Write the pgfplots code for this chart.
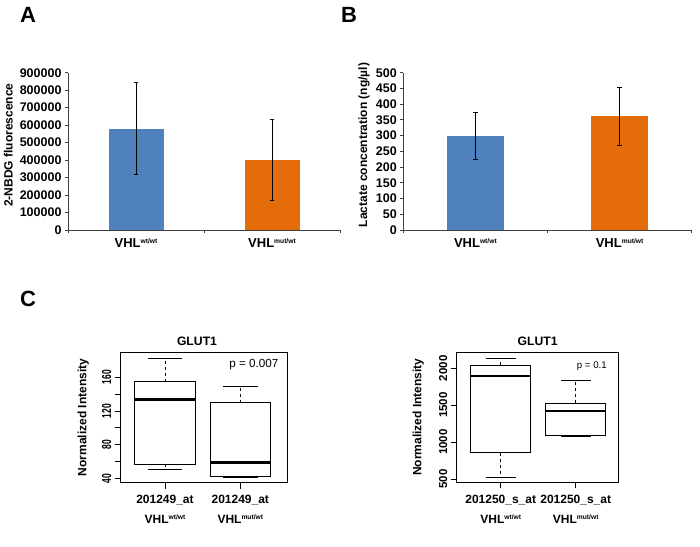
\documentclass[border=0pt]{standalone}
\usepackage{pgfplots}
\pgfplotsset{compat=1.18}
\usepackage{fontspec}
\setmainfont{Liberation Sans}
\definecolor{barblue}{RGB}{79,129,189}
\definecolor{barorange}{RGB}{228,108,10}
\newcommand{\fs}[1]{\fontsize{#1}{#1}\selectfont}
\newcommand{\vhl}[1]{VHL\raisebox{4.3pt}{\fontsize{6.7}{7}\selectfont\bfseries #1}}
\begin{document}
\begin{tikzpicture}[x=1pt,y=1pt]
\path[use as bounding box] (0pt,0pt) rectangle (700pt,546pt);
\node[font=\fs{22}\bfseries] at (28pt,531pt) {A};
\node[font=\fs{22}\bfseries] at (349pt,531pt) {B};
\node[font=\fs{22}\bfseries] at (28pt,247pt) {C};

\pgfplotsset{
  barax/.style={
    anchor=south west, scale only axis,
    xmin=0, xmax=2, ymin=0,
    axis x line*=bottom, axis y line*=left,
    axis line style={black!75, line width=0.8pt},
    tick style={black!75, line width=0.8pt},
    tick align=outside, major tick length=3pt,
    xtick={0,1,2}, xticklabels={,,},
    extra x ticks={0.5,1.5},
    extra x tick labels={\vhl{wt/wt},\vhl{mut/wt}},
    extra x tick style={major tick length=0pt, xticklabel style={anchor=north, inner sep=0pt, yshift=-8.6pt, font=\fs{13}\bfseries}},
    scaled y ticks=false,
    /pgf/number format/fixed, /pgf/number format/1000 sep={}, /pgf/number format/assume math mode=true,
    yticklabel style={font=\fs{12.5}\bfseries},
    every axis y label/.style={at={(rel axis cs:0,0.54)}, rotate=90, anchor=center, font=\fs{12}\bfseries},
  },
  boxax/.style={
    anchor=south west, scale only axis,
    axis line style={black, line width=1pt},
    tick style={black, line width=0.8pt},
    tick align=outside, major tick length=6pt, minor tick length=6pt,
    tick pos=left,
    xtick={1,2},
    scaled y ticks=false,
    /pgf/number format/fixed, /pgf/number format/1000 sep={}, /pgf/number format/assume math mode=true,
    xticklabel style={align=center, anchor=north, inner sep=0pt, yshift=-6.5pt, font=\fontsize{12}{20}\selectfont\bfseries},
    every axis y label/.style={at={(rel axis cs:0,0.5)}, rotate=90, anchor=center, font=\fs{12}\bfseries},
    every axis title shift=0pt,
    every axis title/.style={at={(rel axis cs:0.5,1)}, anchor=south, inner sep=0pt, yshift=6.3pt, font=\fs{12.2}\bfseries},
  },
  boxline/.style={black, line width=0.9pt, mark=none},
  whisk/.style={black, line width=0.9pt, dash pattern=on 3pt off 3pt, mark=none},
  med/.style={black, line width=2.7pt, mark=none},
  ebar/.style={error bars/.cd, y dir=both, y explicit, error mark=none,
    error bar style={draw=black, line width=0.8pt}},
  ecap/.style={only marks, mark=-, mark size=2.4pt, black, line width=0.8pt},
}

% ---------- Panel A ----------
\begin{axis}[barax, at={(68pt,316pt)}, width=272pt, height=157.3pt,
  ymax=900000, ytick distance=100000,
  ylabel={2-NBDG fluorescence}, ylabel style={yshift=59.7pt}]
\addplot[ybar, bar width=55pt, bar shift=0pt, fill=barblue, draw=none, ebar]
  coordinates {(0.5,580000) +- (0,262000)};
\addplot[ybar, bar width=55pt, bar shift=0pt, fill=barorange, draw=none, ebar]
  coordinates {(1.5,400000) +- (0,231000)};
\addplot[ecap] coordinates {(0.5,842000) (0.5,318000) (1.5,631000) (1.5,169000)};
\end{axis}

% ---------- Panel B ----------
\begin{axis}[barax, at={(403.3pt,316pt)}, width=288.4pt, height=157.3pt,
  ymax=500, ytick distance=50,
  ylabel={Lactate concentration (ng/µl)}, ylabel style={yshift=39.3pt}]
\addplot[ybar, bar width=57.6pt, bar shift=0pt, fill=barblue, draw=none, ebar]
  coordinates {(0.5,300) +- (0,75)};
\addplot[ybar, bar width=57.6pt, bar shift=0pt, fill=barorange, draw=none, ebar]
  coordinates {(1.5,361) +- (0,92)};
\addplot[ecap] coordinates {(0.5,375) (0.5,225) (1.5,453) (1.5,269)};
\end{axis}

% ---------- Panel C left ----------
\begin{axis}[boxax, at={(120.7pt,63.3pt)}, width=166.6pt, height=130.4pt,
  xmin=0.412, xmax=2.624, ymin=34.8, ymax=189.7,
  ytick={40,80,120,160}, minor ytick={60,100,140},
  yticklabel style={rotate=90, anchor=south, xscale=0.65, font=\fs{13}\bfseries},
  xticklabels={{201249\_at\\\vhl{wt/wt}},{201249\_at\\\vhl{mut/wt}}},
  title={GLUT1}, title style={xshift=-7pt},
  ylabel={Normalized Intensity}, ylabel style={yshift=37.4pt}]
% box 1
\addplot[boxline] coordinates {(0.6,56.6) (1.4,56.6) (1.4,154.8) (0.6,154.8)} -- cycle;
\addplot[med] coordinates {(0.6,133.9) (1.4,133.9)};
\addplot[whisk] coordinates {(1,154.8) (1,182.6)};
\addplot[whisk] coordinates {(1,56.6) (1,50.7)};
\addplot[boxline] coordinates {(0.77,182.6) (1.23,182.6)};
\addplot[boxline] coordinates {(0.77,50.7) (1.23,50.7)};
% box 2
\addplot[boxline] coordinates {(1.6,41.9) (2.4,41.9) (2.4,129.8) (1.6,129.8)} -- cycle;
\addplot[med] coordinates {(1.6,59) (2.4,59)};
\addplot[whisk] coordinates {(2,129.8) (2,149.7)};
\addplot[boxline] coordinates {(1.77,149.7) (2.23,149.7)};
\addplot[boxline] coordinates {(1.77,41.3) (2.23,41.3)};
\node[anchor=east, font=\fs{11.7}, inner sep=0pt, xshift=-8.6pt, yshift=-12.7pt] at (rel axis cs:1,1) {p = 0.007};
\end{axis}

% ---------- Panel C right ----------
\begin{axis}[boxax, at={(456.7pt,63.7pt)}, width=162pt, height=130pt,
  xmin=0.413, xmax=2.573, ymin=455.3, ymax=2216.8,
  ytick={500,1000,1500,2000},
  yticklabel style={rotate=90, anchor=south, font=\fs{11.5}\bfseries},
  xticklabels={{201250\_s\_at\\\vhl{wt/wt}},{201250\_s\_at\\\vhl{mut/wt}}},
  title={GLUT1},
  ylabel={Normalized Intensity}, ylabel style={yshift=38.4pt}]
% box 1
\addplot[boxline] coordinates {(0.6,856) (1.4,856) (1.4,2045) (0.6,2045)} -- cycle;
\addplot[med] coordinates {(0.6,1896) (1.4,1896)};
\addplot[whisk] coordinates {(1,2045) (1,2135)};
\addplot[whisk] coordinates {(1,856) (1,518)};
\addplot[boxline] coordinates {(0.8,2135) (1.2,2135)};
\addplot[boxline] coordinates {(0.8,518) (1.2,518)};
% box 2
\addplot[boxline] coordinates {(1.6,1092) (2.4,1092) (2.4,1526) (1.6,1526)} -- cycle;
\addplot[med] coordinates {(1.6,1421) (2.4,1421)};
\addplot[whisk] coordinates {(2,1526) (2,1841)};
\addplot[boxline] coordinates {(1.8,1841) (2.2,1841)};
\addplot[boxline] coordinates {(1.8,1080) (2.2,1080)};
\node[anchor=east, font=\fs{9.7}, inner sep=0pt, xshift=-11.7pt, yshift=-13.7pt] at (rel axis cs:1,1) {p = 0.1};
\end{axis}
\end{tikzpicture}
\end{document}
